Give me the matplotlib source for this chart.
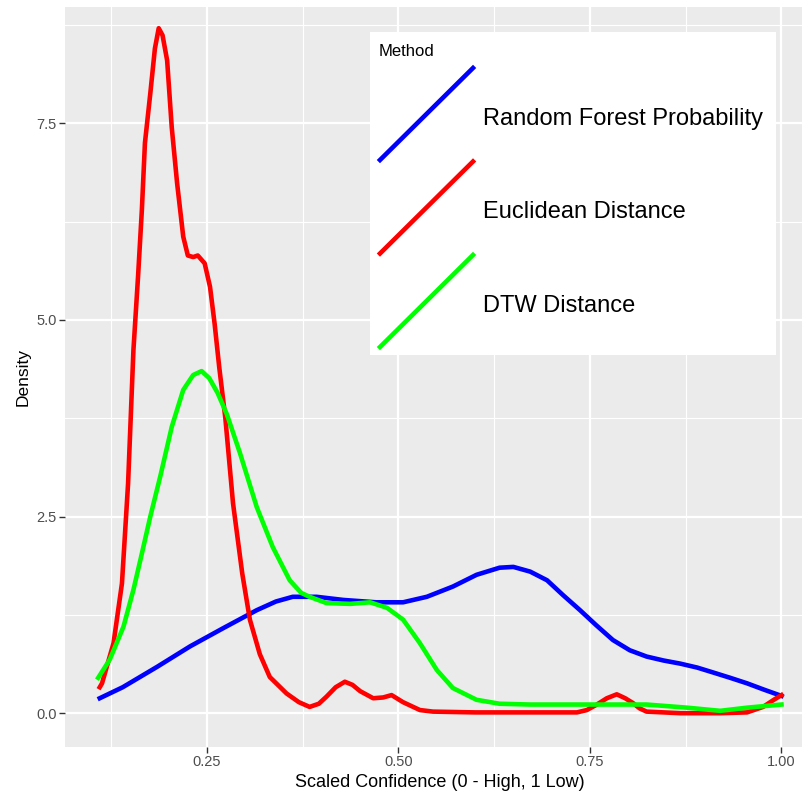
import numpy as np
import matplotlib
matplotlib.use("Agg")
import matplotlib.pyplot as plt

plt.rcParams['font.family'] = ['Liberation Sans', 'DejaVu Sans']

# density curves (x = scaled confidence, y = density)
rf_x = [0.110, 0.140, 0.185, 0.228, 0.271, 0.315, 0.340, 0.362, 0.393, 0.428, 0.471,
        0.506, 0.537, 0.571, 0.602, 0.632, 0.650, 0.672, 0.694, 0.715, 0.737, 0.758,
        0.780, 0.802, 0.824, 0.846, 0.868, 0.890, 0.910, 0.933, 0.955, 0.977, 1.000]
rf_y = [0.19, 0.33, 0.59, 0.85, 1.08, 1.31, 1.42, 1.48, 1.48, 1.44, 1.41,
        1.41, 1.48, 1.61, 1.76, 1.85, 1.86, 1.80, 1.69, 1.50, 1.31, 1.12,
        0.93, 0.80, 0.72, 0.67, 0.63, 0.58, 0.52, 0.45, 0.38, 0.30, 0.22]

eu_x = [0.110, 0.113, 0.128, 0.139, 0.147, 0.154, 0.160, 0.165, 0.169, 0.176, 0.182,
        0.187, 0.192, 0.198, 0.204, 0.211, 0.219, 0.225, 0.232, 0.238, 0.247, 0.254,
        0.260, 0.266, 0.274, 0.284, 0.296, 0.306, 0.319, 0.332, 0.354, 0.370, 0.384,
        0.396, 0.406, 0.418, 0.430, 0.440, 0.450, 0.467, 0.480, 0.491, 0.506, 0.528,
        0.545, 0.600, 0.700, 0.733, 0.746, 0.759, 0.772, 0.785, 0.796, 0.806, 0.815,
        0.824, 0.868, 0.920, 0.955, 0.976, 0.990, 1.000]
eu_y = [0.33, 0.38, 0.89, 1.65, 2.92, 4.62, 5.55, 6.40, 7.25, 7.88, 8.45,
        8.71, 8.62, 8.30, 7.45, 6.74, 6.06, 5.82, 5.80, 5.82, 5.72, 5.42,
        4.95, 4.40, 3.75, 2.67, 1.78, 1.19, 0.75, 0.46, 0.25, 0.14, 0.08,
        0.12, 0.21, 0.33, 0.40, 0.36, 0.28, 0.19, 0.20, 0.23, 0.14, 0.04,
        0.02, 0.01, 0.01, 0.01, 0.04, 0.11, 0.19, 0.24, 0.19, 0.13, 0.06,
        0.02, 0.00, 0.00, 0.01, 0.08, 0.17, 0.23]

dtw_x = [0.108, 0.123, 0.141, 0.154, 0.165, 0.176, 0.189, 0.204, 0.219, 0.232, 0.243,
         0.253, 0.264, 0.276, 0.293, 0.315, 0.336, 0.358, 0.373, 0.384, 0.406, 0.437,
         0.463, 0.485, 0.506, 0.528, 0.550, 0.571, 0.602, 0.632, 0.672, 0.737, 0.824,
         0.877, 0.920, 0.955, 1.000]
dtw_y = [0.45, 0.68, 1.10, 1.57, 2.03, 2.50, 3.01, 3.64, 4.11, 4.30, 4.35,
         4.26, 4.07, 3.80, 3.31, 2.62, 2.11, 1.69, 1.53, 1.48, 1.40, 1.39,
         1.41, 1.34, 1.19, 0.89, 0.55, 0.32, 0.17, 0.12, 0.11, 0.11, 0.11,
         0.07, 0.03, 0.07, 0.11]

labels = ['Random Forest Probability', 'Euclidean Distance', 'DTW Distance']
colors = ['#0000FF', '#FF0000', '#00FF00']

fig = plt.figure(figsize=(8.02, 7.93), dpi=100)
ax = fig.add_axes([0.0810, 0.0580, 0.9359, 0.9332])
ax.set_facecolor('#EBEBEB')

for xs, ys, c in zip([rf_x, eu_x, dtw_x], [rf_y, eu_y, dtw_y], colors):
    ax.plot(xs, ys, color=c, lw=3.3, solid_joinstyle='round', zorder=3)

ax.set_xlim(0.0646, 1.0445)
ax.set_ylim(-0.43, 8.98)
ax.set_xticks([0.25, 0.5, 0.75, 1.0], ['0.25', '0.50', '0.75', '1.00'])
ax.set_yticks([0, 2.5, 5, 7.5], ['0.0', '2.5', '5.0', '7.5'])
ax.set_xticks([0.125, 0.375, 0.625, 0.875], minor=True)
ax.set_yticks([1.25, 3.75, 6.25, 8.75], minor=True)
ax.grid(which='major', color='white', lw=1.6, zorder=0)
ax.grid(which='minor', color='white', lw=0.8, zorder=0)
ax.set_axisbelow(True)
ax.tick_params(which='major', length=4, width=1, color='#333333',
               labelcolor='#4D4D4D', labelsize=10.5, pad=2)
ax.tick_params(which='minor', length=0)
for s in ax.spines.values():
    s.set_visible(False)

ax.set_xlabel('Scaled Confidence (0 - High, 1 Low)', fontsize=13, labelpad=3)
ax.set_ylabel('Density', fontsize=12.5, labelpad=4)

# legend box, drawn in its own little axes (pixel units from the box corner)
lg = fig.add_axes([370 / 802, (793 - 355) / 793, 406 / 802, 323 / 793])
lg.set_xlim(0, 406)
lg.set_ylim(323, 0)
lg.axis('off')
lg.add_patch(plt.Rectangle((0, 0), 406, 323, facecolor='white', edgecolor='none'))
lg.text(9, 19, 'Method', fontsize=12, va='center', ha='left', color='black')
for i, (lab, c) in enumerate(zip(labels, colors)):
    y0 = 128 + i * 93.5
    lg.plot([10, 103], [y0, y0 - 92], color=c, lw=3.3)
    lg.text(113, y0 - 41, lab, fontsize=17, va='center', ha='left', color='black')

fig.savefig('out.png', dpi=100)
